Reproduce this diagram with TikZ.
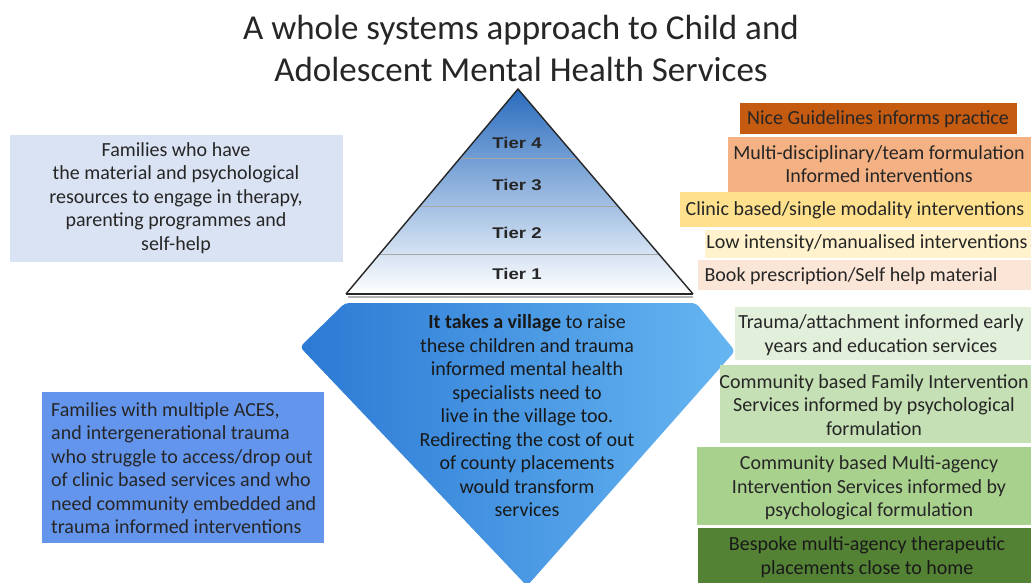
\documentclass[tikz,border=0pt]{standalone}
\usepackage{fontspec}
\setmainfont{Carlito}
\newfontfamily\tierfont{Liberation Sans}
\usetikzlibrary{calc}
\definecolor{txt}{HTML}{262626}
\definecolor{nice}{HTML}{C55A11}
\definecolor{multi}{HTML}{F4B183}
\definecolor{clinic}{HTML}{FFE08C}
\definecolor{lowint}{HTML}{FFF2CC}
\definecolor{book}{HTML}{FBE5D6}
\definecolor{gA}{HTML}{E2EFDA}
\definecolor{gB}{HTML}{C5E0B4}
\definecolor{gC}{HTML}{A9D18E}
\definecolor{gD}{HTML}{548235}
\definecolor{lbox}{HTML}{DAE3F3}
\definecolor{bbox}{HTML}{6495ED}
\definecolor{pyrtop}{HTML}{2A6CBE}
\definecolor{pyrmid}{HTML}{A9C0E6}
\definecolor{diaL}{HTML}{2C79D4}
\definecolor{diaR}{HTML}{66B6F2}
\newcommand{\tierlabel}[1]{\scalebox{1.2}[1]{#1}}
\begin{document}
\begin{tikzpicture}[x=1pt,y=-1pt,
  box/.style={rectangle,draw=none,inner sep=0pt,outer sep=0pt,anchor=north west},
  body/.style={text=txt,align=center,inner sep=0pt,font=\fontsize{20}{23.5}\selectfont},
  tier/.style={text=txt,inner sep=0pt,font=\tierfont\bfseries\fontsize{15.5}{18}\selectfont},
  divider/.style={draw=gray!70,line width=0.8pt}]
\useasboundingbox (0,0) rectangle (1031,582);
\fill[white] (0,0) rectangle (1031,582);
\clip (0,0) rectangle (1031,582);

% title
\node[text=txt,align=center,inner sep=0pt,font=\fontsize{35}{42}\selectfont] (title) at (521,48)
  {A whole systems approach to Child and\\Adolescent Mental Health Services};

% pyramid
\coordinate (apex) at (518,89);
\coordinate (bl) at (346,294);
\coordinate (br) at (693,294);
\shade[top color=pyrtop,middle color=pyrmid,bottom color=white] (apex) -- (br) -- (bl) -- cycle;
\draw[divider] ($(apex)!0.3366!(bl)$) -- ($(apex)!0.3366!(br)$);
\draw[divider] ($(apex)!0.5707!(bl)$) -- ($(apex)!0.5707!(br)$);
\draw[divider] ($(apex)!0.8049!(bl)$) -- ($(apex)!0.8049!(br)$);
\draw[black!85,line width=1.4pt,line join=miter] (bl) -- (apex) -- (br);
\draw[gray!60,line width=2pt] ($(bl)+(2,2.5)$) -- ($(br)+(0,2.5)$);
\draw[black!85,line width=1.8pt] (bl) -- (br);
\node[tier] (t4) at (517,143) {\tierlabel{Tier 4}};
\node[tier] (t3) at (517,185) {\tierlabel{Tier 3}};
\node[tier] (t2) at (517,233) {\tierlabel{Tier 2}};
\node[tier] (t1) at (517,274) {\tierlabel{Tier 1}};

% diamond
\shade[left color=diaL,right color=diaR,rounded corners=4pt]
  (345,303) -- (696,303) -- (735,351) -- (527,586) -- (300,347) -- cycle;
\node[body,text=black!90] (village) at (527,416)
  {\textbf{It takes a village} to raise\\these children and trauma\\informed mental health\\specialists need to\\live in the village too.\\Redirecting the cost of out\\of county placements\\would transform\\services};

% left boxes
\node[box,fill=lbox,minimum width=333pt,minimum height=127pt] (lt) at (10,135) {};
\node[body] (ltt) at (176,198)
  {Families who have\\the material and psychological\\resources to engage in therapy,\\parenting programmes and\\self-help};
\node[box,fill=bbox,minimum width=282pt,minimum height=151pt] (lb) at (42,392) {};
\node[body,align=left,anchor=west] (lbt) at (51,468)
  {Families with multiple ACES,\\and intergenerational trauma\\who struggle to access/drop out\\of clinic based services and who\\need community embedded and\\trauma informed interventions};

% right boxes, top group
\node[box,fill=nice,minimum width=277pt,minimum height=31pt] (r1) at (740,103) {};
\node[body] (r1t) at (878,119) {Nice Guidelines informs practice};
\node[box,fill=multi,minimum width=310pt,minimum height=55pt] (r2) at (728,137) {};
\node[body] (r2t) at (879,164) {Multi-disciplinary/team formulation\\Informed interventions};
\node[box,fill=clinic,minimum width=360pt,minimum height=35pt] (r3) at (680,192) {};
\node[body] (r3t) at (855,210) {Clinic based/single modality interventions};
\node[box,fill=lowint,minimum width=340pt,minimum height=28pt] (r4) at (705,230) {};
\node[body] (r4t) at (867,243) {Low intensity/manualised interventions};
\node[box,fill=book,minimum width=340pt,minimum height=30pt] (r5) at (698,260) {};
\node[body] (r5t) at (851,276) {Book prescription/Self help material};

% right boxes, bottom group
\node[box,fill=gA,minimum width=310pt,minimum height=53pt] (g1) at (735,307) {};
\node[body] (g1t) at (881,335) {Trauma/attachment informed early\\years and education services};
\node[box,fill=gB,minimum width=320pt,minimum height=78pt] (g2) at (720,365) {};
\node[body] (g2t) at (874,405) {Community based Family Intervention\\Services informed by psychological\\formulation};
\node[box,fill=gC,minimum width=340pt,minimum height=78pt] (g3) at (697,447) {};
\node[body] (g3t) at (869,488) {Community based Multi-agency\\Intervention Services informed by\\psychological formulation};
\node[box,fill=gD,minimum width=340pt,minimum height=60pt] (g4) at (698,528) {};
\node[body,text=black!90] (g4t) at (867,557) {Bespoke multi-agency therapeutic\\placements close to home};
\end{tikzpicture}
\end{document}
